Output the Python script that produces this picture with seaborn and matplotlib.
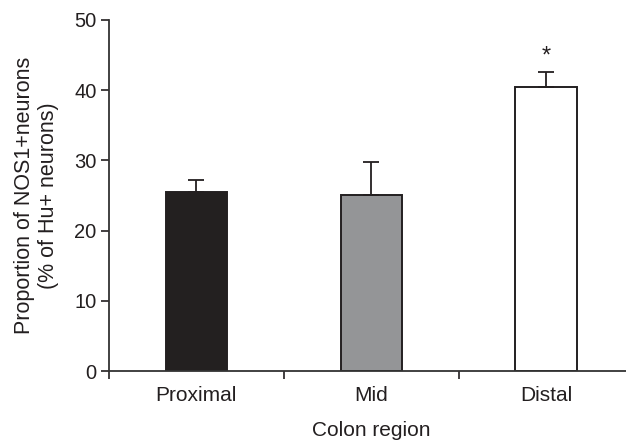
import matplotlib
matplotlib.use("Agg")
import matplotlib.pyplot as plt
import seaborn as sns
import pandas as pd

# === Data
regions = ["Proximal", "Mid", "Distal"]
means = [25.5, 25.1, 40.4]
sem = [1.75, 4.7, 2.2]
bar_colors = ["#231f20", "#939598", "#ffffff"]

df = pd.DataFrame({"region": regions, "value": means})

sns.set_style("ticks")
plt.rcParams["font.family"] = ["Liberation Sans", "DejaVu Sans"]
ink = "#231f20"

fig = plt.figure(figsize=(6.26, 4.43), dpi=100)
ax = fig.add_axes([0.174, 0.1625, 0.838, 0.7924])

sns.barplot(data=df, x="region", y="value", hue="region", palette=dict(zip(regions, bar_colors)),
            order=regions, width=0.35, errorbar=None, legend=False,
            edgecolor=ink, linewidth=1.4, ax=ax)

# error bars (upper only)
ax.errorbar(range(len(regions)), means, yerr=[[0] * len(sem), sem], fmt="none",
            ecolor=ink, elinewidth=1.3, capsize=6, capthick=1.3, zorder=1)

# significance marker
ax.text(2, means[2] + sem[2] + 0.6, "*", ha="center", va="bottom", fontsize=17, color=ink)

# === Axes styling
ax.set_ylim(0, 50)
ax.set_xlim(-0.5, 2.5)
ax.set_yticks([0, 10, 20, 30, 40, 50])
ax.set_xticks([-0.5, 0.5, 1.5, 2.5])
ax.set_xticklabels([])
ax.set_xticks(range(len(regions)), minor=True)
ax.set_xticklabels(regions, minor=True)
ax.tick_params(axis="x", which="minor", length=0, labelsize=15, pad=11, colors=ink)
ax.tick_params(axis="x", which="major", length=5.5, width=1.2, color=ink)
ax.tick_params(axis="y", length=6, width=1.2, labelsize=14.5, colors=ink, pad=3)

for s in ["top", "right"]:
    ax.spines[s].set_visible(False)
for s in ["left", "bottom"]:
    ax.spines[s].set_color("#333333")
    ax.spines[s].set_linewidth(1.3)
ax.spines["bottom"].set_bounds(-0.5, 2.5)

ax.set_xlabel("Colon region", fontsize=15, labelpad=11, color=ink)
ax.set_ylabel("Proportion of NOS1+neurons\n(% of Hu+ neurons)", fontsize=15.5, color=ink,
              linespacing=1.15, labelpad=11)

plt.savefig("out.png", dpi=100)
